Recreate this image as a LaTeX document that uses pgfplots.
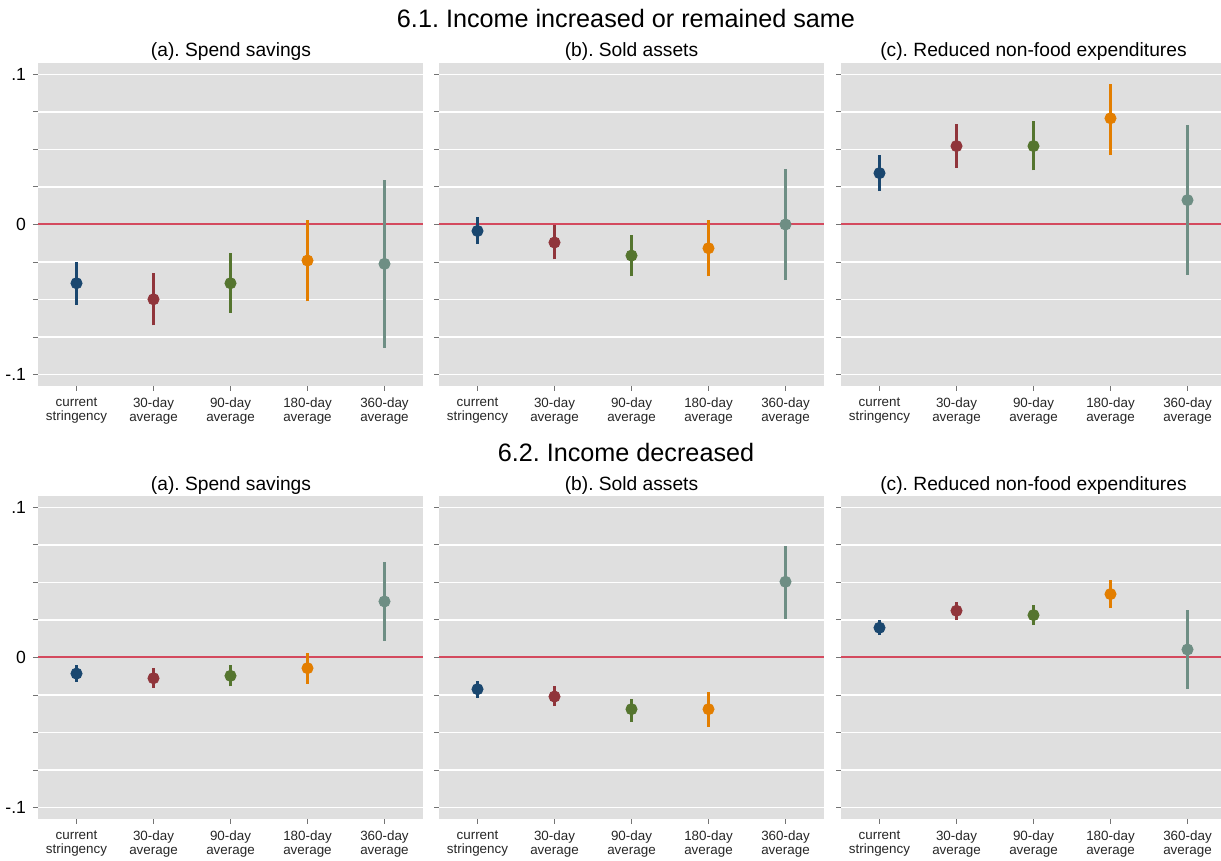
\documentclass[border=0pt]{standalone}
\usepackage{fontspec}
\setmainfont{Liberation Sans}
\usepackage{pgfplots}
\pgfplotsset{compat=1.18}
\frenchspacing
\definecolor{bggray}{RGB}{223,223,223}
\definecolor{zeroline}{RGB}{212,74,94}
\definecolor{cnavy}{RGB}{26,71,111}
\definecolor{cmaroon}{RGB}{144,53,59}
\definecolor{cgreen}{RGB}{85,117,47}
\definecolor{corange}{RGB}{227,126,0}
\definecolor{cteal}{RGB}{110,142,132}
\pgfplotsset{
  panel/.style={
    scale only axis, width=192.5pt, height=161.5pt,
    xmin=0.5, xmax=5.5, ymin=-0.1075, ymax=0.1075,
    axis background/.style={fill=bggray},
    axis line style={draw=none},
    tick align=outside, xtick pos=bottom, ytick pos=left,
    major tick length=2.5pt,
    tick style={black!55, line width=0.5pt},
    xtick={1,2,3,4,5},
    xticklabels={{current\\stringency},{30-day\\average},{90-day\\average},{180-day\\average},{360-day\\average}},
    xticklabel style={align=center, font=\fontsize{6.7}{7}\selectfont, text=black!85},
    ytick={-0.1,-0.075,-0.05,-0.025,0,0.025,0.05,0.075,0.1},
    ymajorgrids, major grid style={white, line width=0.75pt},
    yticklabel style={font=\fontsize{8.8}{10}\selectfont},
  },
  labeled/.style={yticklabels={-.1,,,,0,,,,.1}},
  unlabeled/.style={yticklabels={,,,,,,,,}},
}
\newcommand{\zl}{\addplot[draw=zeroline, line width=1pt, forget plot] coordinates {(0.5,0) (5.5,0)};}
\newcommand{\ci}[5]{%
  \addplot[draw=#1, line width=1.2pt, forget plot] coordinates {(#2,#3) (#2,#4)};
  \addplot[only marks, mark=*, mark size=2.8pt, color=#1, forget plot] coordinates {(#2,#5)};
}
\begin{document}
\begin{tikzpicture}
\useasboundingbox (0,0) rectangle (610.5pt,430.5pt);
\node[anchor=base, font=\fontsize{12.6}{14}\selectfont] at (313pt,416.5pt) {6.1. Income increased or remained same};
\node[anchor=base, font=\fontsize{12.6}{14}\selectfont] at (313pt,199.5pt) {6.2. Income decreased};
\foreach \yb in {402pt,185pt}{
  \node[anchor=base, font=\fontsize{9.6}{11}\selectfont] at (115.5pt,\yb) {(a). Spend savings};
  \node[anchor=base, font=\fontsize{9.6}{11}\selectfont] at (315.75pt,\yb) {(b). Sold assets};
  \node[anchor=base, font=\fontsize{9.6}{11}\selectfont] at (516.75pt,\yb) {(c). Reduced non-food expenditures};
}

% Top row
\begin{axis}[panel, labeled, at={(19pt,237.5pt)}, anchor=south west]
\zl
\ci{cnavy}{1}{-0.0533}{-0.0249}{-0.0391}
\ci{cmaroon}{2}{-0.0671}{-0.0322}{-0.0498}
\ci{cgreen}{3}{-0.0589}{-0.0193}{-0.0391}
\ci{corange}{4}{-0.0511}{0.0027}{-0.0240}
\ci{cteal}{5}{-0.0822}{0.0298}{-0.0262}
\end{axis}
\begin{axis}[panel, unlabeled, at={(219.5pt,237.5pt)}, anchor=south west]
\zl
\ci{cnavy}{1}{-0.0131}{0.0051}{-0.0043}
\ci{cmaroon}{2}{-0.0233}{-0.0005}{-0.0120}
\ci{cgreen}{3}{-0.0345}{-0.0067}{-0.0207}
\ci{corange}{4}{-0.0345}{0.0029}{-0.0158}
\ci{cteal}{5}{-0.0371}{0.0367}{0.0000}
\end{axis}
\begin{axis}[panel, unlabeled, at={(420.5pt,237.5pt)}, anchor=south west]
\zl
\ci{cnavy}{1}{0.0222}{0.0462}{0.0342}
\ci{cmaroon}{2}{0.0378}{0.0667}{0.0522}
\ci{cgreen}{3}{0.0360}{0.0687}{0.0522}
\ci{corange}{4}{0.0462}{0.0938}{0.0707}
\ci{cteal}{5}{-0.0333}{0.0662}{0.0162}
\end{axis}

% Bottom row
\begin{axis}[panel, labeled, at={(19pt,21pt)}, anchor=south west]
\zl
\ci{cnavy}{1}{-0.0160}{-0.0051}{-0.0107}
\ci{cmaroon}{2}{-0.0200}{-0.0073}{-0.0138}
\ci{cgreen}{3}{-0.0193}{-0.0049}{-0.0122}
\ci{corange}{4}{-0.0176}{0.0033}{-0.0071}
\ci{cteal}{5}{0.0111}{0.0633}{0.0373}
\end{axis}
\begin{axis}[panel, unlabeled, at={(219.5pt,21pt)}, anchor=south west]
\zl
\ci{cnavy}{1}{-0.0269}{-0.0158}{-0.0211}
\ci{cmaroon}{2}{-0.0324}{-0.0193}{-0.0260}
\ci{cgreen}{3}{-0.0427}{-0.0273}{-0.0344}
\ci{corange}{4}{-0.0460}{-0.0233}{-0.0344}
\ci{cteal}{5}{0.0256}{0.0744}{0.0504}
\end{axis}
\begin{axis}[panel, unlabeled, at={(420.5pt,21pt)}, anchor=south west]
\zl
\ci{cnavy}{1}{0.0149}{0.0249}{0.0198}
\ci{cmaroon}{2}{0.0249}{0.0369}{0.0311}
\ci{cgreen}{3}{0.0216}{0.0349}{0.0282}
\ci{corange}{4}{0.0329}{0.0516}{0.0422}
\ci{cteal}{5}{-0.0211}{0.0313}{0.0053}
\end{axis}
\end{tikzpicture}
\end{document}
